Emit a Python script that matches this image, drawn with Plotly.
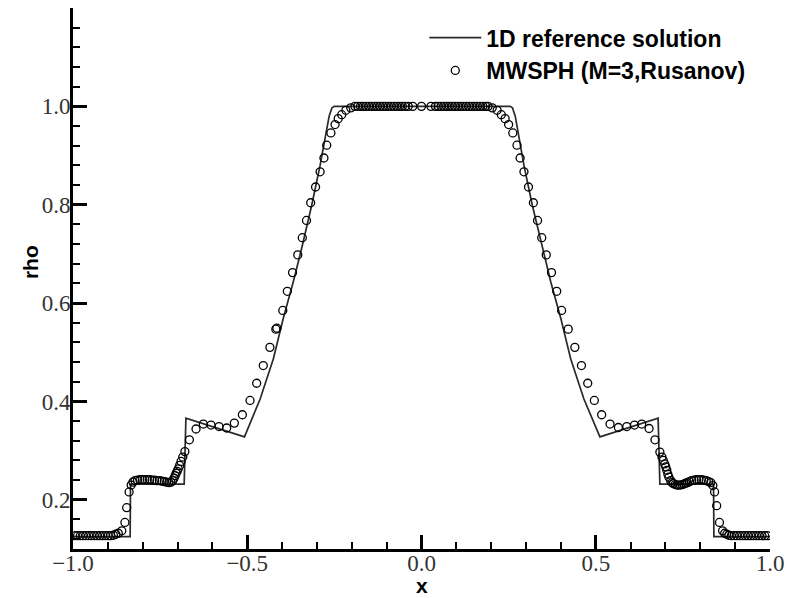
import plotly.graph_objects as go

# ---------------- data ----------------
ref_x = [-1.0, -0.836, -0.835, -0.76, -0.681, -0.676, -0.508, -0.463, -0.425, -0.397,
         -0.368, -0.344, -0.315, -0.291, -0.265, -0.257, -0.25,
         0.254, 0.261, 0.269, 0.294, 0.318, 0.347, 0.371, 0.400, 0.428, 0.466,
         0.512, 0.679, 0.684, 0.76, 0.838, 0.839, 1.0]
ref_rho = [0.125, 0.125, 0.232, 0.232, 0.232, 0.366, 0.328, 0.405, 0.487, 0.568,
           0.643, 0.711, 0.799, 0.880, 0.980, 0.997, 1.0,
           1.0, 0.997, 0.980, 0.880, 0.799, 0.711, 0.643, 0.568, 0.487, 0.405,
           0.328, 0.366, 0.232, 0.232, 0.232, 0.125, 0.125]

sph_x = [
    -0.995, -0.987, -0.979, -0.971, -0.963, -0.955, -0.947, -0.939, -0.931, -0.923,
    -0.915, -0.907, -0.899, -0.892, -0.884, -0.877, -0.870, -0.860, -0.851, -0.846,
    -0.839, -0.833, -0.828, -0.822, -0.815, -0.808, -0.801, -0.794, -0.787, -0.780,
    -0.773, -0.766, -0.759, -0.752, -0.745, -0.738, -0.731, -0.725, -0.719, -0.714,
    -0.710, -0.707, -0.704, -0.701, -0.698, -0.694, -0.690, -0.685, -0.679, -0.666,
    -0.647, -0.626, -0.604, -0.581, -0.559, -0.537, -0.514, -0.492, -0.473, -0.454,
    -0.435, -0.418, -0.415, -0.398, -0.385, -0.370, -0.355, -0.342, -0.330, -0.318,
    -0.304, -0.291, -0.280, -0.272, -0.260, -0.248, -0.239, -0.229, -0.217, -0.203,
    -0.191, -0.183, -0.175, -0.167, -0.159, -0.151, -0.143, -0.135, -0.127, -0.119,
    -0.111, -0.103, -0.095, -0.087, -0.079, -0.071, -0.063, -0.055, -0.047, -0.038,
    -0.025, 0.000, 0.027, 0.040, 0.048, 0.056, 0.064, 0.072, 0.080, 0.088,
    0.096, 0.104, 0.112, 0.120, 0.128, 0.136, 0.144, 0.152, 0.160, 0.168,
    0.176, 0.184, 0.191, 0.203, 0.217, 0.229, 0.240, 0.250, 0.262, 0.274,
    0.283, 0.294, 0.307, 0.321, 0.333, 0.345, 0.358, 0.373, 0.388, 0.402,
    0.421, 0.440, 0.459, 0.477, 0.496, 0.517, 0.541, 0.565, 0.589, 0.611,
    0.632, 0.653, 0.670, 0.684, 0.690, 0.694, 0.698, 0.701, 0.704, 0.707,
    0.710, 0.715, 0.719, 0.723, 0.728, 0.733, 0.738, 0.743, 0.748, 0.753,
    0.758, 0.763, 0.769, 0.775, 0.782, 0.789, 0.796, 0.803, 0.810, 0.817,
    0.824, 0.830, 0.836, 0.841, 0.847, 0.855, 0.864, 0.870, 0.876, 0.882,
    0.889, 0.897, 0.905, 0.913, 0.921, 0.929, 0.937, 0.945, 0.953, 0.961,
    0.969, 0.977, 0.985, 0.993]
sph_rho = [
    0.127, 0.127, 0.127, 0.127, 0.127, 0.127, 0.127, 0.127, 0.127, 0.127,
    0.127, 0.127, 0.127, 0.127, 0.128, 0.130, 0.132, 0.137, 0.154, 0.184,
    0.216, 0.230, 0.236, 0.239, 0.240, 0.241, 0.241, 0.241, 0.241, 0.241,
    0.240, 0.240, 0.239, 0.239, 0.238, 0.237, 0.236, 0.235, 0.236, 0.239,
    0.244, 0.249, 0.254, 0.258, 0.263, 0.270, 0.278, 0.287, 0.298, 0.322,
    0.344, 0.354, 0.352, 0.349, 0.346, 0.356, 0.373, 0.402, 0.437, 0.473,
    0.510, 0.547, 0.549, 0.585, 0.624, 0.662, 0.698, 0.733, 0.768, 0.804,
    0.836, 0.867, 0.895, 0.921, 0.946, 0.963, 0.975, 0.983, 0.992, 0.997,
    1.0, 1.0, 1.0, 1.0, 1.0, 1.0, 1.0, 1.0, 1.0, 1.0,
    1.0, 1.0, 1.0, 1.0, 1.0, 1.0, 1.0, 1.0, 1.0, 1.0,
    1.0, 1.0, 1.0, 1.0, 1.0, 1.0, 1.0, 1.0, 1.0, 1.0,
    1.0, 1.0, 1.0, 1.0, 1.0, 1.0, 1.0, 1.0, 1.0, 1.0,
    1.0, 1.0, 1.0, 0.997, 0.992, 0.983, 0.975, 0.963, 0.946, 0.921,
    0.895, 0.867, 0.836, 0.804, 0.768, 0.733, 0.698, 0.662, 0.624, 0.585,
    0.547, 0.510, 0.473, 0.437, 0.402, 0.373, 0.354, 0.347, 0.349, 0.352,
    0.354, 0.345, 0.322, 0.297, 0.287, 0.280, 0.273, 0.267, 0.260, 0.252,
    0.246, 0.239, 0.235, 0.233, 0.231, 0.230, 0.230, 0.230, 0.231, 0.232,
    0.234, 0.235, 0.237, 0.239, 0.240, 0.241, 0.241, 0.241, 0.240, 0.239,
    0.237, 0.235, 0.229, 0.216, 0.188, 0.154, 0.137, 0.132, 0.130, 0.128,
    0.127, 0.127, 0.127, 0.127, 0.127, 0.127, 0.127, 0.127, 0.127, 0.127,
    0.127, 0.127, 0.127, 0.127]

x_ticks = [-1.0, -0.5, 0.0, 0.5, 1.0]
x_labels = ["\u22121.0", "\u22120.5", "0.0", "0.5", "1.0"]
y_ticks = [0.2, 0.4, 0.6, 0.8, 1.0]
y_labels = ["0.2", "0.4", "0.6", "0.8", "1.0"]

# ---------------- figure ----------------
fig = go.Figure()
fig.add_trace(go.Scatter(
    x=ref_x, y=ref_rho, mode="lines", name="1D reference solution",
    line=dict(color="#2a2a2a", width=1.7)))
fig.add_trace(go.Scatter(
    x=sph_x, y=sph_rho, mode="markers", name="MWSPH (M=3,Rusanov)",
    marker=dict(symbol="circle-open", size=8, color="black", line=dict(width=1.3))))

tickfont = dict(family="Liberation Serif", size=23, color="#333333")
titlefont = dict(family="Liberation Sans", size=21, color="black", weight="bold")

fig.update_layout(
    width=787, height=598,
    margin=dict(l=73, r=17, t=8, b=49),
    paper_bgcolor="white", plot_bgcolor="white",
    showlegend=True,
    legend=dict(x=0.504, y=0.985, xanchor="left", yanchor="top",
                bgcolor="rgba(0,0,0,0)", itemwidth=52, tracegroupgap=0,
                font=dict(family="Liberation Sans", size=23, color="black", weight="bold")),
    xaxis=dict(range=[-1, 1], tickvals=x_ticks, ticktext=x_labels,
               ticks="inside", ticklen=14, tickwidth=3, tickcolor="black",
               showline=True, linecolor="black", linewidth=3,
               showgrid=False, zeroline=False, tickfont=tickfont, automargin=False,
               ticklabelstandoff=-9,
               minor=dict(dtick=0.1, tick0=0, ticks="inside", ticklen=7, tickwidth=2,
                          tickcolor="black", showgrid=False)),
    yaxis=dict(range=[0.1, 1.2], tickvals=y_ticks, ticktext=y_labels,
               ticks="inside", ticklen=14, tickwidth=3, tickcolor="black",
               showline=True, linecolor="black", linewidth=3,
               showgrid=False, zeroline=False, tickfont=tickfont, automargin=False,
               ticklabelstandoff=-5,
               minor=dict(dtick=0.04, tick0=0, ticks="inside", ticklen=7, tickwidth=2,
                          tickcolor="black", showgrid=False)),
    annotations=[
        dict(text="x", xref="paper", yref="paper", x=0.5, y=-0.068,
             xanchor="center", yanchor="middle", showarrow=False, font=titlefont),
        dict(text="rho", xref="paper", yref="paper", x=-0.062, y=0.53,
             xanchor="center", yanchor="middle", showarrow=False, textangle=-90,
             font=titlefont),
    ],
)

fig.write_html("out.html")
